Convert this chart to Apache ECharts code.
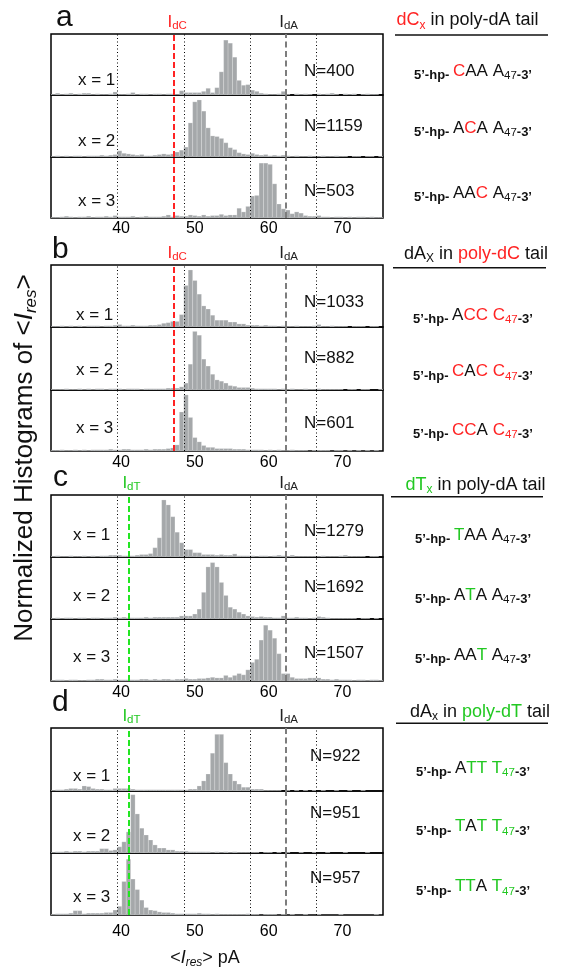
<!DOCTYPE html>
<html><head><meta charset="utf-8">
<script src="https://cdn.jsdelivr.net/npm/echarts@6/dist/echarts.min.js"></script>
<style>html,body{margin:0;padding:0;background:#fff}#c{width:561px;height:973px}</style>
</head><body><div id="c"></div>
<script>
// ---------- DATA ----------
const binStart = 30.5;          // pA, left edge of first bin
const binWidth = 0.6;           // pA
const tickLabels = [40, 50, 60, 70];
const guideLines = [39.5, 48.5, 57.5, 66.5];
const I_dC = 47.2, I_dA = 62.3, I_dT = 41.0;
const panelLetters = ['a', 'b', 'c', 'd'];
const xLabels = ['x = 1', 'x = 2', 'x = 3'];
const countsA = [400, 1159, 503];
const countsB = [1033, 882, 601];
const countsC = [1279, 1692, 1507];
const countsD = [922, 951, 957];
const seqA = ['CAA', 'ACA', 'AAC'];
const seqB = ['ACC', 'CAC', 'CCA'];
const seqC = ['TAA', 'ATA', 'AAT'];
const seqD = ['ATT', 'TAT', 'TTA'];
const tailLetters = ['A', 'C', 'A', 'T'];
const tailLength = '47';

// normalized histogram heights, 75 bins from 30.5 pA, width 0.6 pA
const histA1 = [0.01,0.03,0.01,0.02,0.03,0.01,0.02,0.03,0.03,0.01, 0.02,0.01,0.01,0.02,0.05,0.01,0.01,0.02,0.04,0.01, 0.02,0.02,0.01,0.02,0.02,0.01,0.02,0.02,0.01,0.07, 0.04,0.04,0.04,0.04,0.06,0.11,0.04,0.12,0.38,0.90, 0.85,0.62,0.24,0.16,0.17,0.08,0.06,0.03,0.02,0.01, 0.01,0.02,0.06,0.01,0.00,0.02,0.01,0.02,0.01,0.00, 0.02,0.01,0.02,0.03,0.01,0.00,0.02,0.01,0.02,0.00, 0.01,0.02,0.01,0.01,0.00];
const histA2 = [0.01,0.02,0.01,0.02,0.01,0.02,0.02,0.01,0.02,0.02, 0.02,0.03,0.02,0.03,0.04,0.10,0.06,0.05,0.04,0.03, 0.04,0.02,0.02,0.03,0.04,0.05,0.04,0.05,0.08,0.11, 0.16,0.55,0.89,0.92,0.74,0.47,0.34,0.33,0.30,0.23, 0.15,0.12,0.07,0.05,0.04,0.06,0.04,0.03,0.04,0.02, 0.03,0.02,0.03,0.02,0.01,0.02,0.01,0.01,0.02,0.01, 0.01,0.02,0.01,0.01,0.02,0.01,0.01,0.00,0.01,0.01, 0.00,0.01,0.01,0.00,0.01];
const histA3 = [0.01,0.01,0.02,0.03,0.02,0.01,0.02,0.02,0.03,0.01, 0.02,0.02,0.03,0.02,0.04,0.02,0.02,0.02,0.03,0.01, 0.02,0.03,0.02,0.02,0.02,0.03,0.05,0.02,0.04,0.03, 0.03,0.05,0.04,0.03,0.05,0.03,0.04,0.04,0.06,0.04, 0.05,0.05,0.16,0.10,0.19,0.36,0.37,0.90,0.90,0.88, 0.56,0.23,0.15,0.13,0.07,0.10,0.08,0.04,0.03,0.03, 0.04,0.02,0.02,0.01,0.02,0.02,0.01,0.02,0.01,0.02, 0.02,0.01,0.02,0.01,0.01];
const histB1 = [0.01,0.01,0.02,0.01,0.02,0.01,0.02,0.01,0.02,0.02, 0.02,0.01,0.02,0.02,0.03,0.04,0.02,0.02,0.03,0.02, 0.02,0.02,0.03,0.03,0.04,0.06,0.07,0.09,0.09,0.20, 0.67,0.92,0.75,0.53,0.34,0.29,0.19,0.11,0.11,0.11, 0.08,0.08,0.05,0.05,0.03,0.03,0.03,0.02,0.03,0.02, 0.02,0.01,0.02,0.01,0.01,0.02,0.01,0.01,0.01,0.02, 0.04,0.01,0.01,0.02,0.01,0.01,0.01,0.00,0.01,0.01, 0.01,0.00,0.01,0.01,0.00];
const histB2 = [0.01,0.01,0.01,0.02,0.01,0.01,0.02,0.01,0.02,0.01, 0.02,0.02,0.01,0.02,0.02,0.02,0.01,0.02,0.02,0.02, 0.01,0.02,0.02,0.02,0.02,0.02,0.03,0.03,0.03,0.05, 0.11,0.41,0.93,0.87,0.49,0.38,0.25,0.16,0.14,0.11, 0.07,0.06,0.04,0.04,0.04,0.03,0.02,0.02,0.02,0.02, 0.02,0.01,0.02,0.01,0.02,0.01,0.01,0.02,0.01,0.01, 0.02,0.01,0.01,0.01,0.01,0.01,0.00,0.01,0.01,0.00, 0.01,0.01,0.00,0.00,0.01];
const histB3 = [0.01,0.01,0.02,0.01,0.01,0.02,0.01,0.02,0.01,0.02, 0.02,0.02,0.02,0.03,0.02,0.02,0.03,0.03,0.02,0.02, 0.02,0.03,0.02,0.03,0.03,0.03,0.04,0.05,0.10,0.64, 0.92,0.55,0.22,0.15,0.09,0.06,0.06,0.04,0.04,0.04, 0.04,0.03,0.03,0.03,0.02,0.02,0.02,0.02,0.01,0.02, 0.01,0.02,0.01,0.01,0.02,0.01,0.01,0.01,0.00,0.01, 0.01,0.01,0.01,0.00,0.01,0.01,0.00,0.01,0.00,0.01, 0.00,0.01,0.00,0.01,0.00];
const histC1 = [0.01,0.02,0.01,0.01,0.02,0.01,0.01,0.02,0.01,0.02, 0.01,0.02,0.02,0.03,0.03,0.03,0.02,0.02,0.02,0.03, 0.04,0.04,0.055,0.15,0.31,0.92,0.84,0.65,0.40,0.23, 0.12,0.12,0.07,0.07,0.04,0.04,0.04,0.03,0.04,0.03, 0.03,0.05,0.02,0.02,0.02,0.02,0.01,0.02,0.02,0.01, 0.02,0.03,0.02,0.01,0.03,0.01,0.01,0.01,0.01,0.01, 0.01,0.02,0.01,0.01,0.01,0.02,0.03,0.01,0.01,0.01, 0.01,0.00,0.01,0.01,0.00];
const histC2 = [0.01,0.02,0.01,0.02,0.02,0.01,0.02,0.02,0.01,0.02, 0.02,0.01,0.02,0.02,0.03,0.02,0.03,0.02,0.02,0.02, 0.02,0.03,0.02,0.03,0.03,0.03,0.03,0.03,0.03,0.05, 0.05,0.05,0.08,0.16,0.43,0.84,0.91,0.84,0.59,0.38, 0.19,0.16,0.11,0.08,0.05,0.04,0.03,0.04,0.03,0.03, 0.02,0.02,0.05,0.02,0.02,0.03,0.02,0.02,0.01,0.02, 0.04,0.03,0.02,0.01,0.01,0.01,0.01,0.01,0.01,0.00, 0.01,0.01,0.00,0.01,0.00];
const histC3 = [0.01,0.02,0.02,0.01,0.02,0.02,0.01,0.01,0.02,0.02, 0.03,0.03,0.02,0.02,0.03,0.02,0.02,0.02,0.02,0.02, 0.03,0.03,0.02,0.03,0.02,0.03,0.03,0.02,0.03,0.03, 0.04,0.03,0.03,0.04,0.04,0.05,0.06,0.05,0.05,0.09, 0.06,0.09,0.12,0.10,0.18,0.30,0.35,0.66,0.90,0.82, 0.69,0.44,0.12,0.12,0.06,0.04,0.04,0.04,0.05,0.05, 0.05,0.03,0.03,0.02,0.03,0.02,0.02,0.02,0.01,0.02, 0.02,0.01,0.02,0.02,0.01];
const histD1 = [0.01,0.02,0.02,0.03,0.04,0.04,0.03,0.08,0.07,0.04, 0.03,0.03,0.02,0.02,0.04,0.04,0.04,0.04,0.03,0.02, 0.02,0.02,0.02,0.02,0.02,0.02,0.02,0.02,0.02,0.02, 0.02,0.03,0.03,0.08,0.16,0.27,0.60,0.90,0.90,0.45, 0.27,0.16,0.11,0.06,0.06,0.03,0.03,0.03,0.01,0.01, 0.01,0.01,0.00,0.01,0.00,0.01,0.00,0.01,0.00,0.01, 0.00,0.01,0.00,0.00,0.01,0.00,0.00,0.01,0.00,0.00, 0.01,0.00,0.00,0.00,0.00];
const histD2 = [0.01,0.02,0.02,0.03,0.02,0.03,0.03,0.02,0.03,0.03, 0.03,0.07,0.07,0.04,0.05,0.10,0.18,0.34,0.94,0.63, 0.40,0.29,0.21,0.13,0.08,0.08,0.05,0.05,0.03,0.03, 0.03,0.02,0.02,0.02,0.02,0.02,0.01,0.02,0.01,0.02, 0.01,0.02,0.01,0.01,0.01,0.01,0.01,0.00,0.01,0.01, 0.00,0.01,0.00,0.01,0.00,0.00,0.01,0.00,0.00,0.01, 0.00,0.00,0.01,0.00,0.00,0.00,0.01,0.00,0.00,0.00, 0.00,0.01,0.00,0.00,0.00];
const histD3 = [0.01,0.02,0.02,0.02,0.03,0.07,0.07,0.02,0.03,0.03, 0.03,0.03,0.04,0.04,0.08,0.14,0.54,0.90,0.58,0.41, 0.24,0.12,0.08,0.07,0.05,0.04,0.04,0.03,0.02,0.02, 0.02,0.02,0.02,0.03,0.02,0.02,0.01,0.02,0.01,0.01, 0.01,0.01,0.01,0.01,0.02,0.01,0.01,0.00,0.01,0.01, 0.01,0.00,0.01,0.00,0.01,0.00,0.00,0.01,0.00,0.00, 0.01,0.00,0.00,0.00,0.00,0.01,0.00,0.00,0.00,0.00, 0.00,0.00,0.00,0.01,0.00];

// ---------- STYLE / LAYOUT ----------
const FONT = '"Liberation Sans", Arial, Helvetica, sans-serif';
const RED = '#ff2323', GREEN_T = '#22c822', GREEN_L = '#22e622', GRAY_L = '#7d7d7d', INK = '#111';
const BAR = '#a5a8aa';
const gridLeft = 51, gridWidth = 332;
const panelBounds = [[34, 95, 157, 218], [265, 327, 390, 451], [495, 557, 619, 681], [728, 791, 853, 915]];
const labelMargins = [3, 4, 4, 9];
const nLabelX = [304, 304, 304, 310];
const nLabelY = [[71.7, 126.7, 191.7], [302.3, 358, 423], [531.7, 587, 653], [756.7, 813, 878]];
const xLabelX = [78, 76, 73, 73];
const xLabelY = [[80, 141.7, 201.7], [315, 370, 428], [535, 596.7, 657], [776, 836.7, 897.7]];
const letterPos = [[56, 17.5], [52, 249.5], [53, 477.5], [52, 702.5]];
const headerPos = [[467.5, 20.4], [476, 253.7], [475.5, 484.7], [480, 711.7]];
const underline = [[395, 548, 35], [393, 546, 267.7], [391, 543, 496.7], [396, 548, 723.3]];
const seqX = 473;
const seqY = [[71, 128, 193], [315, 371.7, 430], [535, 595, 655], [768, 826.7, 886.7]];

const panels = [
  { hists: [histA1, histA2, histA3], counts: countsA, seqs: seqA, tail: tailLetters[0], hiLetter: 'C', hi: 'r', tailStyle: 'n', subStyle: 'sub',
    marker: { name: 'dC', value: I_dC, line: RED, text: RED },
    header: '{hr|dC}{hrs|x}{h| in poly-dA tail}' },
  { hists: [histB1, histB2, histB3], counts: countsB, seqs: seqB, tail: tailLetters[1], hiLetter: 'C', hi: 'r', tailStyle: 'r', subStyle: 'subr',
    marker: { name: 'dC', value: I_dC, line: RED, text: RED },
    header: '{h|dA}{hs|X}{h| in }{hr|poly-dC}{h| tail}' },
  { hists: [histC1, histC2, histC3], counts: countsC, seqs: seqC, tail: tailLetters[2], hiLetter: 'T', hi: 'g', tailStyle: 'n', subStyle: 'sub',
    marker: { name: 'dT', value: I_dT, line: GREEN_L, text: GREEN_T },
    header: '{hg|dT}{hgs|x}{h| in poly-dA tail}' },
  { hists: [histD1, histD2, histD3], counts: countsD, seqs: seqD, tail: tailLetters[3], hiLetter: 'T', hi: 'g', tailStyle: 'g', subStyle: 'subg',
    marker: { name: 'dT', value: I_dT, line: GREEN_L, text: GREEN_T },
    header: '{h|dA}{hs|x}{h| in }{hg|poly-dT}{h| tail}' }
];

function renderBar(params, api) {
  const x0 = api.value(0), v = api.value(1);
  if (!(v > 0)) return null;
  const p0 = api.coord([x0, v]);
  const p1 = api.coord([x0 + binWidth, 0]);
  return { type: 'rect', shape: { x: p0[0], y: p0[1], width: p1[0] - p0[0], height: p1[1] - p0[1] },
    style: { fill: BAR, stroke: 'rgba(255,255,255,0.4)', lineWidth: 0.5 } };
}

function markerLabel(name, color) {
  return { show: true, position: 'end', distance: 2, offset: [3, 0],
    formatter: '{i|I}{s|' + name + '}',
    rich: { i: { fontSize: 17, color: color, lineHeight: 20, fontFamily: FONT },
            s: { fontSize: 11.5, color: color, lineHeight: 11, verticalAlign: 'bottom', fontFamily: FONT } } };
}

const grid = [], xAxis = [], yAxis = [], series = [], graphic = [];
panels.forEach((p, pi) => {
  for (let s = 0; s < 3; s++) {
    const idx = pi * 3 + s;
    const top = panelBounds[pi][s], bottom = panelBounds[pi][s + 1];
    grid.push({ left: gridLeft, width: gridWidth, top: top, height: bottom - top, show: true, borderColor: '#000', borderWidth: 1.5, backgroundColor: 'transparent' });
    xAxis.push({ gridIndex: idx, type: 'value', min: binStart, max: binStart + binWidth * 75,
      axisLine: { show: false }, axisTick: { show: false }, splitLine: { show: false },
      axisLabel: s === 2 ? { show: true, customValues: tickLabels, margin: labelMargins[pi], fontSize: 16, color: '#000', fontFamily: FONT } : { show: false } });
    yAxis.push({ gridIndex: idx, type: 'value', min: 0, max: 1, show: false });
    series.push({ type: 'custom', xAxisIndex: idx, yAxisIndex: idx, renderItem: renderBar, clip: true, silent: true,
      data: p.hists[s].map((v, k) => [binStart + k * binWidth, v]) });
    const mlData = guideLines.map(g => ({ xAxis: g, lineStyle: { type: [1, 2.5], color: '#000', width: 1 } }));
    mlData.push({ xAxis: p.marker.value, lineStyle: { type: [6, 3], color: p.marker.line, width: 2 },
      label: s === 0 ? markerLabel(p.marker.name, p.marker.text) : { show: false } });
    mlData.push({ xAxis: I_dA, lineStyle: { type: [6, 3.5], color: GRAY_L, width: 2 },
      label: s === 0 ? markerLabel('dA', '#222') : { show: false } });
    series.push({ type: 'line', xAxisIndex: idx, yAxisIndex: idx, data: [], silent: true, z: 5,
      markLine: { silent: true, symbol: ['none', 'none'], animation: false, label: { show: false }, data: mlData } });

    graphic.push({ type: 'text', x: nLabelX[pi], y: nLabelY[pi][s],
      style: { text: 'N=' + p.counts[s], font: '17px ' + FONT, fill: INK, align: 'left', verticalAlign: 'middle', textAlign: 'left', textVerticalAlign: 'middle' } });
    graphic.push({ type: 'text', x: xLabelX[pi], y: xLabelY[pi][s],
      style: { text: xLabels[s], font: '17px ' + FONT, fill: INK, align: 'left', verticalAlign: 'middle', textAlign: 'left', textVerticalAlign: 'middle' } });

    // sequence label
    let t = '{b|5’-hp- }';
    for (const ch of p.seqs[s]) t += (ch === p.hiLetter ? '{' + p.hi + '|' + ch + '}' : '{n|' + ch + '}');
    t += '{n| }{' + p.tailStyle + '|' + p.tail + '}{' + p.subStyle + '|' + tailLength + '}{b|-3’}';
    graphic.push({ type: 'text', x: seqX, y: seqY[pi][s],
      style: { text: t, align: 'center', verticalAlign: 'middle', textAlign: 'center', textVerticalAlign: 'middle',
        rich: {
          b: { fontSize: 13, fontWeight: 'bold', fill: INK, fontFamily: FONT, lineHeight: 19, verticalAlign: 'bottom' },
          n: { fontSize: 17, fill: INK, fontFamily: FONT, lineHeight: 22 },
          r: { fontSize: 17, fill: RED, fontFamily: FONT, lineHeight: 22 },
          g: { fontSize: 17, fill: GREEN_T, fontFamily: FONT, lineHeight: 22 },
          sub: { fontSize: 11.5, fill: INK, fontFamily: FONT, lineHeight: 11, verticalAlign: 'bottom' },
          subr: { fontSize: 11.5, fill: RED, fontFamily: FONT, lineHeight: 11, verticalAlign: 'bottom' },
          subg: { fontSize: 11.5, fill: GREEN_T, fontFamily: FONT, lineHeight: 11, verticalAlign: 'bottom' }
        } } });
  }
  graphic.push({ type: 'text', x: letterPos[pi][0], y: letterPos[pi][1],
    style: { text: panelLetters[pi], font: '30px ' + FONT, fill: INK, align: 'left', verticalAlign: 'middle', textAlign: 'left', textVerticalAlign: 'middle' } });
  graphic.push({ type: 'text', x: headerPos[pi][0], y: headerPos[pi][1],
    style: { text: p.header, align: 'center', verticalAlign: 'middle', textAlign: 'center', textVerticalAlign: 'middle',
      rich: {
        h: { fontSize: 18, fill: INK, fontFamily: FONT, lineHeight: 22 },
        hr: { fontSize: 18, fill: RED, fontFamily: FONT, lineHeight: 22 },
        hg: { fontSize: 18, fill: GREEN_T, fontFamily: FONT, lineHeight: 22 },
        hs: { fontSize: 12, fill: INK, fontFamily: FONT, lineHeight: 12, verticalAlign: 'bottom' },
        hrs: { fontSize: 12, fill: RED, fontFamily: FONT, lineHeight: 12, verticalAlign: 'bottom' },
        hgs: { fontSize: 12, fill: GREEN_T, fontFamily: FONT, lineHeight: 12, verticalAlign: 'bottom' }
      } } });
  graphic.push({ type: 'line', shape: { x1: underline[pi][0], y1: underline[pi][2], x2: underline[pi][1], y2: underline[pi][2] },
    style: { stroke: INK, lineWidth: 1.5 } });
});

// axis titles
graphic.push({ type: 'text', x: 205, y: 958,
  style: { text: '{n|<}{i|I}{s|res}{n|> pA}', align: 'center', verticalAlign: 'middle', textAlign: 'center', textVerticalAlign: 'middle',
    rich: { n: { fontSize: 18, fill: INK, fontFamily: FONT, lineHeight: 22 },
            i: { fontSize: 18, fill: INK, fontFamily: FONT, fontStyle: 'italic', lineHeight: 22 },
            s: { fontSize: 12, fill: INK, fontFamily: FONT, fontStyle: 'italic', lineHeight: 12, verticalAlign: 'bottom' } } } });
graphic.push({ type: 'text', x: 25, y: 458, rotation: Math.PI / 2,
  style: { text: '{n|Normalized Histograms of <}{i|I}{s|res}{n|>}', align: 'center', verticalAlign: 'middle', textAlign: 'center', textVerticalAlign: 'middle',
    rich: { n: { fontSize: 26, fill: INK, fontFamily: FONT, lineHeight: 30 },
            i: { fontSize: 26, fill: INK, fontFamily: FONT, fontStyle: 'italic', lineHeight: 30 },
            s: { fontSize: 17, fill: INK, fontFamily: FONT, fontStyle: 'italic', lineHeight: 17, verticalAlign: 'bottom' } } } });

const chart = echarts.init(document.getElementById('c'), null, { renderer: 'canvas' });
chart.setOption({ animation: false, backgroundColor: '#fff', grid, xAxis, yAxis, series, graphic });
</script>
</body></html>
